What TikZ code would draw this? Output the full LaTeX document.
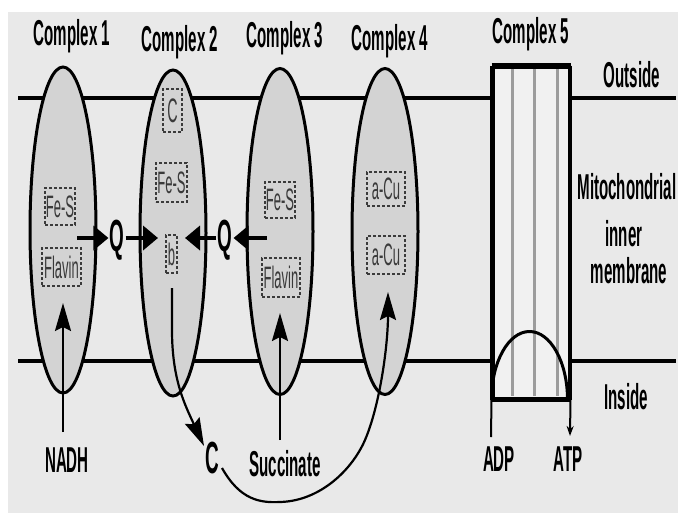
\documentclass[tikz,border=0pt]{standalone}
\usepackage{fontspec}
\setmainfont{Liberation Sans}[FakeStretch=0.42]
\usetikzlibrary{shapes.geometric,arrows.meta}
\definecolor{bgc}{HTML}{E9E9E9}
\definecolor{cplx}{HTML}{D3D3D3}
\definecolor{boxc}{HTML}{3A3A3A}
\definecolor{rodc}{HTML}{9C9C9C}
\definecolor{rectc}{HTML}{F1F1F1}
\begin{document}
\begin{tikzpicture}[x=1pt,y=-1pt,
  lab/.style={font=\fontsize{36}{36}\selectfont\bfseries, inner sep=0pt, anchor=base},
  big/.style={font=\fontsize{45}{45}\selectfont\bfseries, inner sep=0pt, anchor=base},
  cplxnode/.style={ellipse, draw=black, fill=cplx, line width=3pt, minimum width=66pt, minimum height=326pt, inner sep=0pt},
  sbox/.style={draw=boxc, densely dashed, line width=1.3pt, inner sep=0pt, text=boxc,
     font=\fontsize{31}{31}\selectfont},
  qarr/.style={line width=4pt, -{Triangle[length=15pt,width=24pt]}},
  longarr/.style={line width=2.2pt, -{Stealth[length=28pt,width=16pt,inset=4pt]}},
  smallarr/.style={line width=2pt, -{Stealth[length=10pt,width=7pt]}},
  mem/.style={line width=4.5pt}]
\useasboundingbox (0,0) rectangle (678,515);
\fill[white] (0,0) rectangle (678,515);
\fill[bgc] (8,12) rectangle (678,513);

% membrane lines
\draw[mem] (18,98) -- (676,98);
\draw[mem] (18,361) -- (676,361);

% complexes 1-4
\node[cplxnode] (c1) at (63,230) {};
\node[cplxnode] (c2) at (173,233) {};
\node[cplxnode] (c3) at (280,231.5) {};
\node[cplxnode] (c4) at (385,231.5) {};

% complex 5
\node[draw=black, fill=rectc, line width=3pt, minimum width=76pt, minimum height=331pt, inner sep=0pt] (c5) at (531,232.5) {};
\foreach \xx in {512,534,557} \draw[rodc, line width=3pt] (\xx,69) -- (\xx,396);
\draw[line width=4.5pt] (c5.north west) -- (c5.north east);
\draw[line width=4.5pt] (c5.south west) -- (c5.south east);
\draw[line width=2.5pt] (c5.north west) -- (c5.south west);
\draw[line width=2.5pt] (c5.north east) -- (c5.south east);

% titles
\node[lab] (t1) at (72,45) {Complex 1};
\node[lab] (t2) at (180,51) {Complex 2};
\node[lab] (t3) at (285,47) {Complex 3};
\node[lab] (t4) at (390,50) {Complex 4};
\node[lab] (t5) at (531,43) {Complex 5};
\node[lab] (outside) at (632,87) {Outside};
\node[lab] (mito) at (627,199) {Mitochondrial};
\node[lab] (inner) at (624,246) {inner};
\node[lab] (membr) at (629,283) {membrane};
\node[lab] (inside) at (626,409) {Inside};

% boxes
\node[sbox, minimum width=30pt, minimum height=37pt] (c1fes) at (60,206.5) {Fe-S};
\node[sbox, minimum width=39pt, minimum height=38pt] (c1fl) at (61.5,267) {Flavin};
\node[sbox, minimum width=19pt, minimum height=43pt] (c2c) at (172.5,110.5) {\fontsize{34}{34}\selectfont C};
\node[sbox, minimum width=31pt, minimum height=39pt] (c2fes) at (171.5,182.5) {Fe-S};
\node[sbox, minimum width=11pt, minimum height=38pt] (c2b) at (171.5,254) {b};
\node[sbox, minimum width=30pt, minimum height=36pt] (c3fes) at (280,200) {Fe-S};
\node[sbox, minimum width=38pt, minimum height=39pt] (c3fl) at (281,277.5) {Flavin};
\node[sbox, minimum width=38pt, minimum height=34pt] (c4a1) at (386,189) {a-Cu};
\node[sbox, minimum width=38pt, minimum height=38pt] (c4a2) at (386,255) {a-Cu};

% Q arrows
\node[big] (q1) at (117,251) {Q};
\node[big] (q2) at (225,251) {Q};
\coordinate (q1tail) at (77,238);
\coordinate (q1tip) at (158,238);
\coordinate (q2tip) at (185,238);
\coordinate (q2tail) at (267,238);
\draw[qarr] (q1tail) -- ([xshift=-1pt]q1.west |- q1tail);
\draw[qarr] ([xshift=1pt]q1.east |- q1tail) -- (q1tip);
\draw[qarr] ([xshift=-1pt]q2.west |- q2tip) -- (q2tip);
\draw[qarr] (q2tail) -- ([xshift=1pt]q2.east |- q2tail);

% bottom labels
\node[lab] (nadh) at (67,472) {NADH};
\node[big] (cc) at (212,473) {C};
\node[lab] (succ) at (285,476) {Succinate};
\node[lab] (adp) at (499,471) {ADP};
\node[lab] (atp) at (568,471) {ATP};

% NADH and succinate arrows
\coordinate (nadhtail) at (63,432);
\coordinate (nadhtip) at (63,303);
\draw[longarr] (nadhtail) -- (nadhtip);
\coordinate (succtail) at (280,440);
\coordinate (succtip) at (280,313);
\draw[longarr] (succtail) -- (succtip);

% b -> C
\coordinate (bstart) at (172,288);
\coordinate (ctip) at (204,446);
\draw[longarr] (bstart) -- (172,330) .. controls (172,380) and (185,405) .. (ctip);

% C -> complex 4
\coordinate (cstart) at (222,468);
\coordinate (atip) at (388,292);
\draw[longarr] (cstart) .. controls (240,500) and (260,503) .. (280,502)
   .. controls (320,501) and (352,470) .. (365,440)
   .. controls (380,405) and (388,345) .. (atip);

% ATP synthase arc
\coordinate (adpend) at (491,437);
\coordinate (atptip) at (570,436);
\draw[line width=3pt] (c5.south west) arc[start angle=180, end angle=360, x radius=38, y radius=68];
\draw[line width=2pt] (adpend) -- (c5.south west);
\draw[smallarr] (c5.south east) -- (atptip);
\end{tikzpicture}
\end{document}
